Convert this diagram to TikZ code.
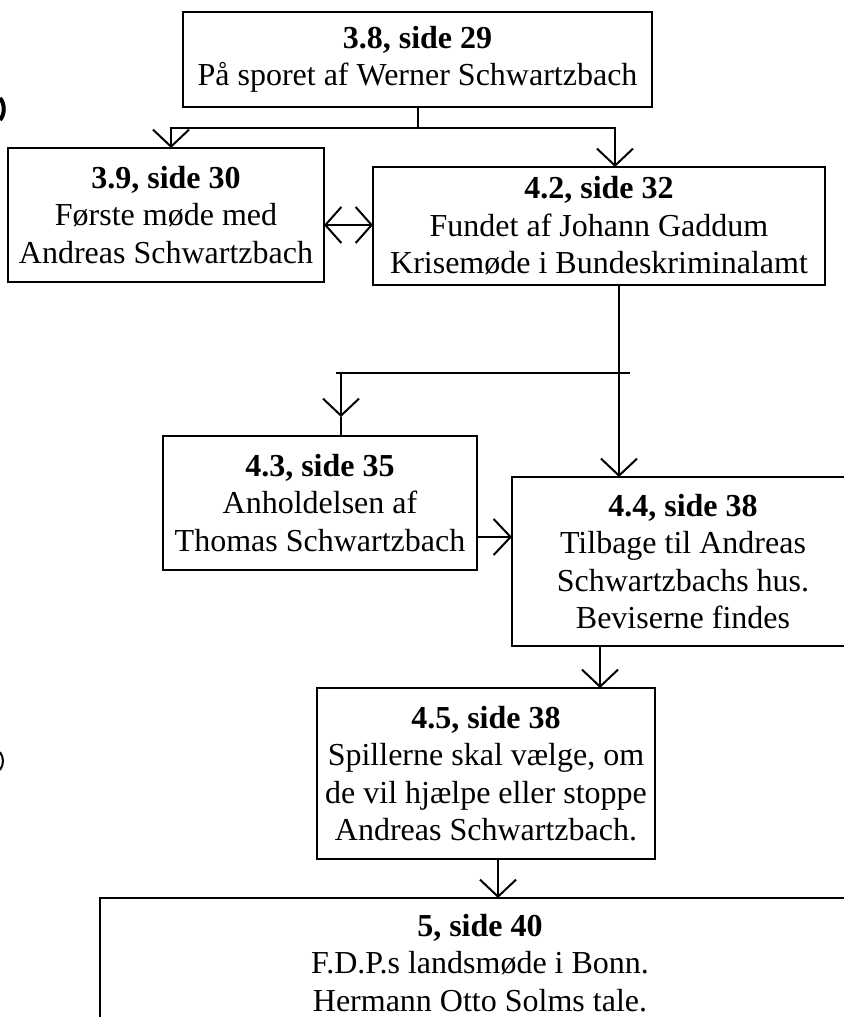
\documentclass[tikz,border=0pt]{standalone}
\usepackage{fontspec}
\setmainfont{Liberation Serif}
\usetikzlibrary{arrows.meta}
\begin{document}
\begin{tikzpicture}[x=0.5pt,y=-0.5pt,
  box/.style={draw, line width=1.2pt, inner sep=0pt, outer sep=0pt, align=center,
    font=\fontsize{16pt}{18.75pt}\selectfont},
  conn/.style={line width=1pt},
  arr/.style={conn, -{Straight Barb[length=8.5pt,width=18pt]}},
  arrb/.style={conn, {Straight Barb[length=8pt,width=18pt]}-{Straight Barb[length=8pt,width=18pt]}},
]
\useasboundingbox (0,0) rectangle (844,1017);
\clip (0,0) rectangle (844,1017);

% scan marks at the left edge
\draw[line width=2pt] (0,98) .. controls (5,104) and (5,114) .. (0,120);
\draw[line width=1pt] (0,752) .. controls (4,758) and (4,764) .. (0,770);

% boxes
\node[box, minimum width=234.5pt, minimum height=47.5pt] (n38) at (417.5,59.5)
  {\textbf{3.8, side 29}\\På sporet af Werner Schwartzbach};
\node[box, minimum width=158pt, minimum height=67pt] (n39) at (166,215)
  {\textbf{3.9, side 30}\\Første møde med\\Andreas Schwartzbach};
\node[box, minimum width=226pt, minimum height=59pt] (n42) at (599,226)
  {\textbf{4.2, side 32}\\Fundet af Johann Gaddum\\Krisemøde i Bundeskriminalamt};
\node[box, minimum width=157pt, minimum height=67pt] (n43) at (320,503)
  {\textbf{4.3, side 35}\\Anholdelsen af\\Thomas Schwartzbach};
\node[box, minimum width=171pt, minimum height=84.5pt] (n44) at (683,561.5)
  {\textbf{4.4, side 38}\\Tilbage til Andreas\\Schwartzbachs hus.\\Beviserne findes};
\node[box, minimum width=169pt, minimum height=85.5pt] (n45) at (486,773.5)
  {\textbf{4.5, side 38}\\Spillerne skal vælge, om\\de vil hjælpe eller stoppe\\Andreas Schwartzbach.};
\node[box, minimum width=380pt, minimum height=65pt] (n5) at (480,963)
  {\textbf{5, side 40}\\F.D.P.s landsmøde i Bonn.\\Hermann Otto Solms tale.};

% connectors from 3.8
\coordinate (j1) at ([yshift=-10.5pt]n38.south);
\draw[conn] (n38.south) -- (j1);
\draw[arr] (j1) -| ([xshift=2.5pt]n39.north);
\draw[arr] (j1) -| ([xshift=8pt]n42.north);

% double arrow 3.9 <-> 4.2
\draw[arrb] ([yshift=-5pt]n39.east) -- ([yshift=0.5pt]n42.west);

% from 4.2 down to 4.4, with branch to 4.3
\coordinate (j2) at ([xshift=10pt,yshift=-44pt]n42.south);
\coordinate (j3) at ([xshift=10.5pt,yshift=31.5pt]n43.north);
\coordinate (t43) at ([xshift=10.5pt,yshift=9.5pt]n43.north);
\draw[arr] ([xshift=10pt]n42.south) -- ([xshift=-32pt]n44.north);
\draw[conn] ([xshift=5.5pt]j2) -- ([xshift=-2.5pt]j3);
\draw[arr] (j3) -- (t43);
\draw[conn] (t43) -- ([xshift=10.5pt]n43.north);

% 4.3 -> 4.4
\draw[arr] ([yshift=-17pt]n43.east) -- ([yshift=12.25pt]n44.west);

% 4.4 -> 4.5 -> 5
\draw[arr] ([xshift=-41.5pt]n44.south) -- ([xshift=57pt]n45.north);
\draw[arr] ([xshift=6pt]n45.south) -- ([xshift=9pt]n5.north);
\end{tikzpicture}
\end{document}
